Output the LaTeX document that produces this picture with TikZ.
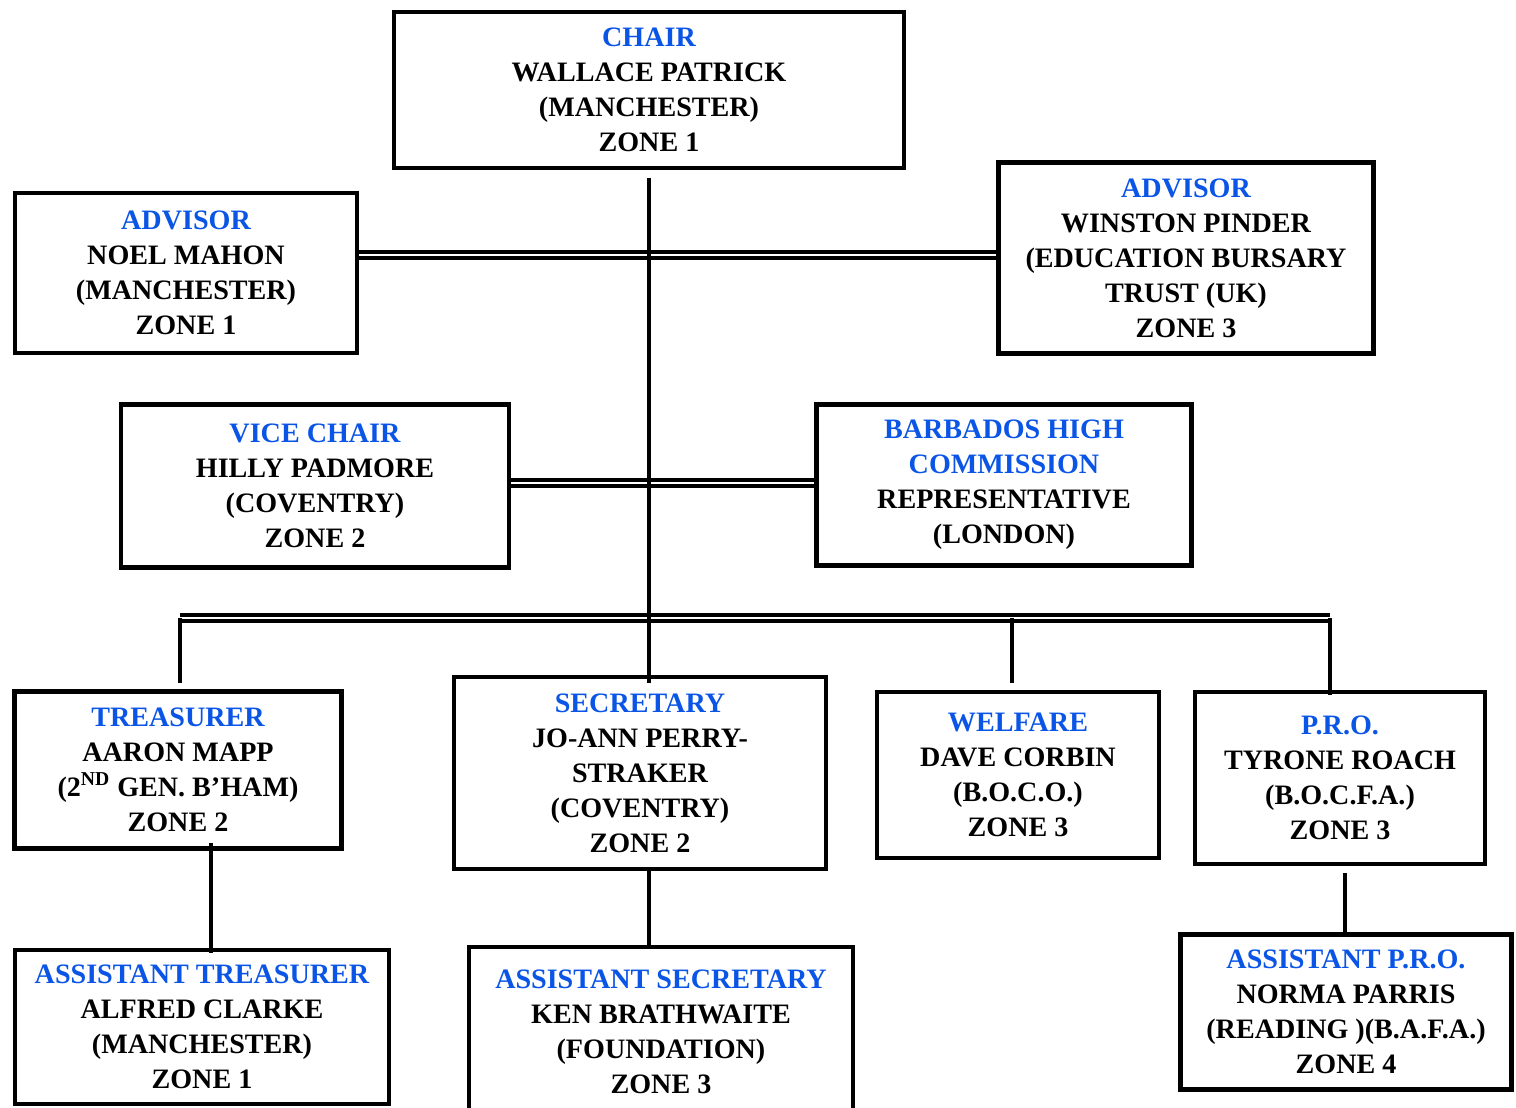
\documentclass[tikz,border=0pt]{standalone}
\usepackage{fontspec}
\setmainfont{Liberation Serif}
\usepackage{tikz}
\definecolor{postblue}{RGB}{10,85,230}
\tikzset{
  post/.style = {draw=black, line width=2.4pt, rectangle, align=center,
    inner sep=0pt, font=\bfseries\fontsize{16}{19.9}\selectfont},% boite de poste
  link/.style = {line width=2.4pt},% trait simple
  dlink/.style = {line width=2.2pt, double=white, double distance=1.6pt}% trait double
}
\newcommand{\role}[1]{\textcolor{postblue}{#1}}

\begin{document}
\begin{tikzpicture}[x=0.02cm,y=-0.02cm]
\useasboundingbox (0,0) rectangle (1516,1107);
\node [post, minimum width=10.2cm, minimum height=3.12cm] (chair) at (649,90)
  {\role{CHAIR}\\WALLACE PATRICK\\(MANCHESTER)\\ZONE 1};
\node [post, minimum width=6.84cm, minimum height=3.2cm] (advl) at (186,273)
  {\role{ADVISOR}\\NOEL MAHON\\(MANCHESTER)\\ZONE 1};
\node [post, minimum width=7.5cm, minimum height=3.82cm] (advr) at (1186,258)
  {\role{ADVISOR}\\WINSTON PINDER\\(EDUCATION BURSARY\\TRUST (UK)\\ZONE 3};
\node [post, minimum width=7.76cm, minimum height=3.26cm] (vice) at (315,486)
  {\role{VICE CHAIR}\\HILLY PADMORE\\(COVENTRY)\\ZONE 2};
\node [post, minimum width=7.5cm, minimum height=3.22cm] (bhc) at (1004,485)
  {\role{BARBADOS HIGH}\\\role{COMMISSION}\\REPRESENTATIVE\\(LONDON)};
\node [post, minimum width=6.54cm, minimum height=3.14cm] (treas) at (178,770)
  {\role{TREASURER}\\AARON MAPP\\(2\textsuperscript{ND} GEN. B'HAM)\\ZONE 2};
\node [post, minimum width=7.44cm, minimum height=3.84cm] (sec) at (640,773)
  {\role{SECRETARY}\\JO-ANN PERRY-\\STRAKER\\(COVENTRY)\\ZONE 2};
\node [post, minimum width=5.64cm, minimum height=3.32cm] (welf) at (1018,775)
  {\role{WELFARE}\\DAVE CORBIN\\(B.O.C.O.)\\ZONE 3};
\node [post, minimum width=5.8cm, minimum height=3.44cm] (pro) at (1340,778)
  {\role{P.R.O.}\\TYRONE ROACH\\(B.O.C.F.A.)\\ZONE 3};
\node [post, minimum width=7.48cm, minimum height=3.08cm] (atreas) at (202,1027)
  {\role{ASSISTANT TREASURER}\\ALFRED CLARKE\\(MANCHESTER)\\ZONE 1};
\node [post, minimum width=7.68cm, minimum height=3.4cm] (asec) at (661,1032)
  {\role{ASSISTANT SECRETARY}\\KEN BRATHWAITE\\(FOUNDATION)\\ZONE 3};
\node [post, minimum width=6.62cm, minimum height=3.1cm] (apro) at (1346,1012)
  {\role{ASSISTANT P.R.O.}\\NORMA PARRIS\\(READING )(B.A.F.A.)\\ZONE 4};

\coordinate (ha) at (649,255);
\coordinate (hv) at (649,483);
\coordinate (hb) at (649,618);
\draw [dlink] (advl.east |- ha) -- (advr.west |- ha);
\draw [dlink] (vice.east |- hv) -- (bhc.west |- hv);
\draw [dlink] (180,618) -- (1330,618);
\draw [link] (180,618) -- (180,683);
\draw [link] (1012,618) -- (1012,683);
\draw [link] (1330,618) -- (1330,695);
\draw [link] (chair.south) ++(0,8) -- (649,683);
\draw [link] (211,843) -- (211,953);
\draw [link] (sec.south -| 649,0) -- (649,948);
\draw [link] (1345,873) -- (apro.north -| 1345,0);
\end{tikzpicture}
\end{document}
